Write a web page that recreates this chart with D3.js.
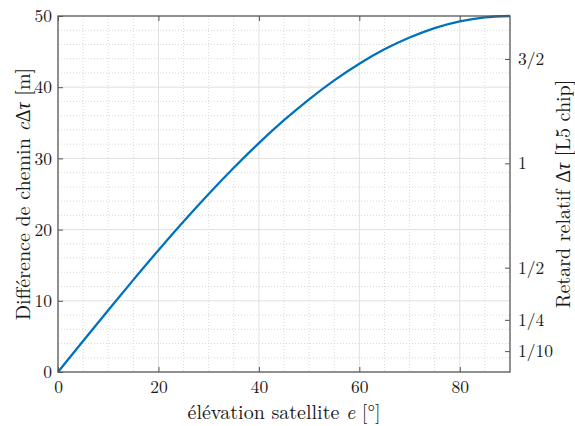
<!DOCTYPE html>
<html><head><meta charset="utf-8">
<script src="https://cdn.jsdelivr.net/npm/d3@7"></script>
<style>body{margin:0;background:#fff}svg{display:block}</style>
</head><body>
<svg id="c" width="575" height="426"></svg>
<script>
const elevation = [0,5,10,15,20,25,30,35,40,45,50,55,60,65,70,75,80,85,90];
const pathDiff = [0,4.36,8.68,12.94,17.10,21.13,25.00,28.68,32.14,35.36,38.30,40.96,43.30,45.32,46.98,48.30,49.24,49.81,50.00];
const xTicks = [0,20,40,60,80];
const yTicks = [0,10,20,30,40,50];
const chipTicks = [0.1,0.25,0.5,1,1.5];
const chipLabels = ["1/10","1/4","1/2","1","3/2"];
const chipLength = 29.305;

const svg = d3.select("#c");
const L=58, R=510, T=16, B=372;
const x = d3.scaleLinear().domain([0,90]).range([L,R]);
const y = d3.scaleLinear().domain([0,50]).range([B,T]);
const y2 = d3.scaleLinear().domain([0,50/chipLength]).range([B,T]);
const font = '"Latin Modern Roman", "Liberation Serif", serif';
const greek = '"Liberation Serif", serif';
const tc = "#1a1a1a";

// minor grid
const g = svg.append("g");
g.selectAll(".mx").data(d3.range(5,90,5).filter(v=>v%20!==0)).enter().append("line")
 .attr("x1",d=>x(d)).attr("x2",d=>x(d)).attr("y1",T).attr("y2",B)
 .attr("stroke","#d8d8d8").attr("stroke-width",1).attr("stroke-dasharray","1,2");
g.selectAll(".my").data(d3.range(2,50,2).filter(v=>v%10!==0)).enter().append("line")
 .attr("x1",L).attr("x2",R).attr("y1",d=>y(d)).attr("y2",d=>y(d))
 .attr("stroke","#d8d8d8").attr("stroke-width",1).attr("stroke-dasharray","1,2");
// major grid
g.selectAll(".Mx").data(xTicks.slice(1)).enter().append("line")
 .attr("x1",d=>x(d)).attr("x2",d=>x(d)).attr("y1",T).attr("y2",B)
 .attr("stroke","#e0e0e0").attr("stroke-width",1);
g.selectAll(".My").data(yTicks.slice(1,-1)).enter().append("line")
 .attr("x1",L).attr("x2",R).attr("y1",d=>y(d)).attr("y2",d=>y(d))
 .attr("stroke","#e0e0e0").attr("stroke-width",1);

// curve
svg.append("path").datum(elevation.map((e,i)=>[e,pathDiff[i]]))
 .attr("d",d3.line().x(d=>x(d[0])).y(d=>y(d[1])).curve(d3.curveMonotoneX))
 .attr("fill","none").attr("stroke","#0072BD").attr("stroke-width",2.3);

// axes
const ac = "#555";
const styleAxis = s => { s.attr("font-family",null).attr("font-size",null);
  s.select(".domain").remove(); s.selectAll(".tick line").attr("stroke",ac);
  s.selectAll(".tick text").attr("fill",tc).attr("font-family",font).attr("font-size","17.5px"); };
svg.append("g").attr("transform",`translate(0,${B})`)
 .call(d3.axisBottom(x).tickValues(xTicks).tickSize(-5).tickPadding(9)).call(styleAxis);
svg.append("g").attr("transform",`translate(0,${T})`)
 .call(d3.axisTop(x).tickValues(xTicks).tickSize(-5).tickFormat("")).call(styleAxis);
svg.append("g").attr("transform",`translate(${L},0)`)
 .call(d3.axisLeft(y).tickValues(yTicks).tickSize(-5).tickPadding(6)).call(styleAxis);
svg.append("g").attr("transform",`translate(${R},0)`)
 .call(d3.axisRight(y2).tickValues(chipTicks).tickSize(-5).tickPadding(8).tickFormat((d,i)=>chipLabels[i])).call(styleAxis);

svg.append("rect").attr("x",L).attr("y",T).attr("width",R-L).attr("height",B-T)
 .attr("fill","none").attr("stroke",ac).attr("stroke-width",1.3);

// labels
function label(tr, parts){
  const t = svg.append("text").attr("transform",tr).attr("text-anchor","middle")
    .attr("font-family",font).attr("font-size","20px").attr("fill",tc);
  parts.forEach(p=>{ const s=t.append("tspan").text(p[0]);
    if(p[1]) s.attr("font-style","italic");
    if(p[2]) s.attr("font-family",greek); });
}
label(`translate(${(L+R)/2},419)`, [["élévation satellite "],["e",1],[" [°]"]]);
label(`translate(30,${(T+B)/2}) rotate(-90)`, [["Différence de chemin "],["c",1],["Δ",0,1],["τ",1,1],[" [m]"]]);
label(`translate(570,${(T+B)/2}) rotate(-90)`, [["Retard relatif "],["Δ",0,1],["τ",1,1],[" [L5 chip]"]]);
</script>
</body></html>
